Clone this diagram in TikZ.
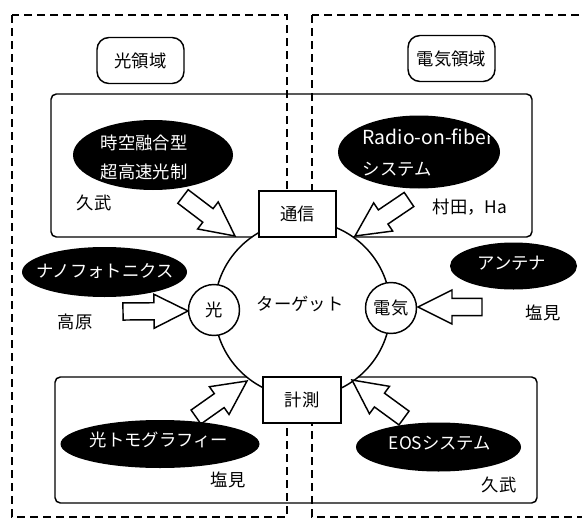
\documentclass[tikz,border=0pt]{standalone}
\usepackage{fontspec}
\setmainfont{Noto Sans CJK JP}
\usetikzlibrary{calc,shapes.geometric}
\newcommand\dfont{\fontsize{13pt}{16pt}\selectfont}
\newcommand\barr[2]{%
  \coordinate (bh) at ($(#2)!25.5pt!(#1)$);
  \draw[barrow] ($(#1)!6.4pt!90:(#2)$) -- ($(bh)!6.4pt!90:(#2)$) -- ($(bh)!12.75pt!90:(#2)$) -- (#2)
    -- ($(bh)!12.75pt!-90:(#2)$) -- ($(bh)!6.4pt!-90:(#2)$) -- ($(#1)!6.4pt!-90:(#2)$) -- cycle;}
\begin{document}
\begin{tikzpicture}[x=0.75pt,y=-0.75pt, line width=1pt,
  dashbox/.style={dash pattern=on 6pt off 3.75pt, line width=1pt},
  group/.style={draw, rounded corners=4pt, line width=1.1pt},
  tag/.style={draw, rounded corners=9pt, line width=1.1pt, minimum width=65.25pt, minimum height=34.5pt, font=\dfont},
  blob/.style={ellipse, fill=black, inner sep=0pt},
  wtext/.style={text=white, font=\dfont, inner sep=0pt},
  lbl/.style={font=\dfont, inner sep=0pt},
  hub/.style={circle, draw, fill=white, inner sep=0pt, line width=1.1pt, font=\dfont},
  sq/.style={draw, fill=white, line width=1.1pt, minimum height=34.5pt, font=\dfont},
  barrow/.style={draw, fill=white, line width=1.1pt, line join=miter}
]
\useasboundingbox (0,0) rectangle (582,521);
% domains
\draw[dashbox] (12,15) rectangle (287,517);
\draw[dashbox] (312,15) rectangle (600,517);
\node[tag] (hikari) at (140.5,60.5) {光領域};
\node[tag] (denki) at (451.5,58.5) {電気領域};
% groups
\draw[group] (51,94) rectangle (532,237);
\draw[group] (55,377) rectangle (537,503);
% target
\node[hub, minimum size=132pt] (tgt) at (302.5,309) {};
\node[lbl] (tgtlbl) at (300,304) {ターゲット};
\node[sq, minimum width=57.75pt] (tsushin) at (297.5,214) {通信};
\node[sq, minimum width=58.5pt] (keisoku) at (302,400) {計測};
\node[hub, minimum size=38.25pt] (hk) at (214,310) {光};
\node[hub, minimum size=38.25pt] (dk) at (391,308) {電気};
% arrows
\coordinate (a1t) at (183,196.5); \coordinate (a1h) at (235,236);
\coordinate (a2t) at (409,199.5); \coordinate (a2h) at (355,236);
\coordinate (a3t) at (123,311.5); \coordinate (a3h) at (188,311);
\coordinate (a4t) at (482,307);   \coordinate (a4h) at (418,307);
\coordinate (a5t) at (196,417);   \coordinate (a5h) at (247,381);
\coordinate (a6t) at (404,418);   \coordinate (a6h) at (352,380);
\barr{a1t}{a1h}
\barr{a2t}{a2h}
\barr{a3t}{a3h}
\barr{a4t}{a4h}
\barr{a5t}{a5h}
\barr{a6t}{a6h}
% ellipses
\node[blob, minimum width=120pt, minimum height=52.5pt] (e1) at (153,155) {};
\node[blob, minimum width=121.5pt, minimum height=54.75pt] (e2) at (419,152) {};
\node[blob, minimum width=123.75pt, minimum height=37.5pt] (e3) at (104.5,272) {};
\node[blob, minimum width=95.25pt, minimum height=35.25pt] (e4) at (513.5,266) {};
\node[blob, minimum width=149.25pt, minimum height=36pt] (e5) at (160,444) {};
\node[blob, minimum width=123.75pt, minimum height=36.75pt] (e6) at (438.5,447) {};
\node[wtext, align=left, font=\fontsize{13pt}{21.75pt}\selectfont] (t1) at (144,157.5) {時空融合型\\超高速光制};
\begin{scope}
\clip (e2.center) ellipse [x radius=78, y radius=36];
\node[wtext, align=left, anchor=west, font=\fontsize{13pt}{23.25pt}\selectfont] (t2) at (362,152.5) {{\fontsize{14.5pt}{16pt}\selectfont Radio-on-fiber}\\システム};
\end{scope}
\node[wtext] (t3) at (105,271) {ナノフォトニクス};
\node[wtext] (t4) at (512,263) {アンテナ};
\node[wtext] (t5) at (159,440) {光トモグラフィー};
\node[wtext] (t6) at (440,443) {EOSシステム};
% names
\node[lbl] (n1) at (94,203) {久武};
\node[lbl] (n2) at (470,207) {村田，Ha};
\node[lbl] (n3) at (75,322) {高原};
\node[lbl] (n4) at (543,313) {塩見};
\node[lbl] (n5) at (228,480) {塩見};
\node[lbl] (n6) at (499,485) {久武};
\end{tikzpicture}
\end{document}
